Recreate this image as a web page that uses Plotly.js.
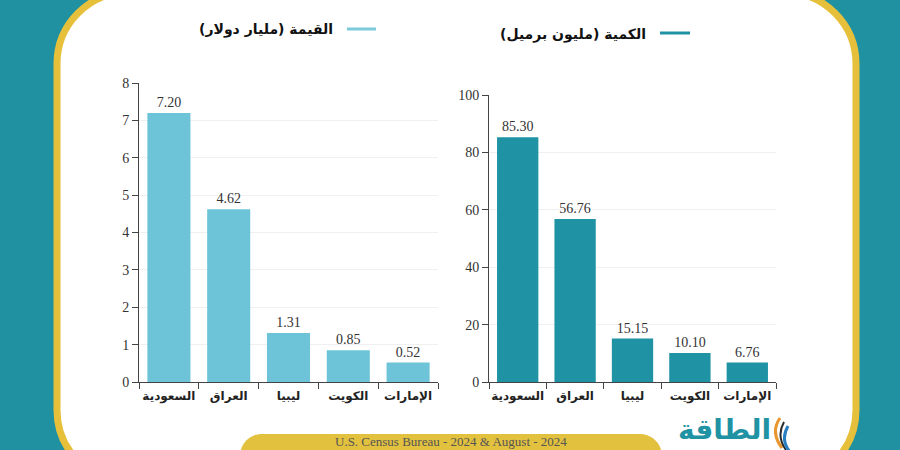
<!DOCTYPE html>
<html>
<head>
<meta charset="utf-8">
<script src="https://cdn.plot.ly/plotly-3.0.1.min.js"></script>
<style>html,body{margin:0;padding:0;background:#1f91a1;}#chart{width:900px;height:450px;}</style>
</head>
<body>
<div id="chart"></div>
<script>
// ---- data ----
const categories = ["السعودية", "العراق", "ليبيا", "الكويت", "الإمارات"];
const valueBillionUSD = [7.20, 4.62, 1.31, 0.85, 0.52];
const volumeMillionBarrels = [85.30, 56.76, 15.15, 10.10, 6.76];
const valueTitle = "القيمة (مليار دولار)";
const volumeTitle = "الكمية (مليون برميل)";
const sourceText = "U.S. Census Bureau - 2024 & August - 2024";
const logoText = "الطاقة";
const valueTicks = [0, 1, 2, 3, 4, 5, 6, 7, 8];
const volumeTicks = [0, 20, 40, 60, 80, 100];

// ---- helpers (pixel -> paper) ----
const W = 900, H = 450;
const px = x => x / W;
const py = y => 1 - y / H;
const P = (x, y) => px(x).toFixed(5) + "," + py(y).toFixed(5);
function roundRect(x0, y0, x1, y1, r) {
  const k = 0.5523 * r;
  return "M" + P(x0 + r, y0) +
    " L" + P(x1 - r, y0) +
    " C" + P(x1 - r + k, y0) + " " + P(x1, y0 + r - k) + " " + P(x1, y0 + r) +
    " L" + P(x1, y1 - r) +
    " C" + P(x1, y1 - r + k) + " " + P(x1 - r + k, y1) + " " + P(x1 - r, y1) +
    " L" + P(x0 + r, y1) +
    " C" + P(x0 + r - k, y1) + " " + P(x0, y1 - r + k) + " " + P(x0, y1 - r) +
    " L" + P(x0, y0 + r) +
    " C" + P(x0, y0 + r - k) + " " + P(x0 + r - k, y0) + " " + P(x0 + r, y0) + " Z";
}

const lightBlue = "#6dc4d8";
const teal = "#1f93a4";
const serif = "Liberation Serif, Times New Roman, serif";
const arabic = "DejaVu Sans, Noto Sans, sans-serif";

const traces = [
  {
    type: "bar", x: categories, y: valueBillionUSD, xaxis: "x", yaxis: "y",
    marker: {color: lightBlue}, texttemplate: "%{y:.2f}", textposition: "outside",
    textfont: {family: serif, size: 14, color: "#333"}, cliponaxis: false, hoverinfo: "skip"
  },
  {
    type: "bar", x: categories, y: volumeMillionBarrels, xaxis: "x2", yaxis: "y2",
    marker: {color: teal}, texttemplate: "%{y:.2f}", textposition: "outside",
    textfont: {family: serif, size: 14, color: "#333"}, cliponaxis: false, hoverinfo: "skip"
  }
];

const xCommon = {
  type: "category", showline: true, linecolor: "#444", linewidth: 1,
  ticks: "outside", tickson: "boundaries", ticklen: 6, tickcolor: "#444",
  tickangle: 0, automargin: false, ticklabelstandoff: 3,
  tickfont: {family: arabic, size: 12, color: "#222", weight: "bold"},
  showgrid: false, zeroline: false, fixedrange: true
};
const yCommon = {
  showline: true, linecolor: "#444", linewidth: 1, ticks: "outside", ticklen: 6,
  tickcolor: "#444", tickfont: {family: serif, size: 14, color: "#333"},
  showgrid: true, gridcolor: "#f0f0f0", gridwidth: 1, zeroline: false, fixedrange: true
};

const layout = {
  width: W, height: H, margin: {l: 0, r: 0, t: 0, b: 0},
  paper_bgcolor: "#1f91a1", plot_bgcolor: "rgba(0,0,0,0)",
  showlegend: false, bargap: 0.28,
  xaxis: Object.assign({}, xCommon, {domain: [px(139), px(438)], anchor: "y"}),
  yaxis: Object.assign({}, yCommon, {domain: [py(382), py(83)], range: [0, 8], tickvals: valueTicks, anchor: "x"}),
  xaxis2: Object.assign({}, xCommon, {domain: [px(489), px(776)], anchor: "y2"}),
  yaxis2: Object.assign({}, yCommon, {domain: [py(382), py(95)], range: [0, 100], tickvals: volumeTicks, anchor: "x2"}),
  shapes: [
    {type: "path", xref: "paper", yref: "paper", layer: "below",
     path: roundRect(57, -8, 856, 482, 72), fillcolor: "#ffffff",
     line: {color: "#e6c03b", width: 7}},
    {type: "path", xref: "paper", yref: "paper", layer: "below",
     path: roundRect(240, 434, 662, 490, 22), fillcolor: "#e2c13e",
     line: {width: 0}},
    {type: "line", xref: "paper", yref: "paper", x0: px(660), x1: px(690), y0: py(33), y1: py(33),
     line: {color: teal, width: 3}},
    {type: "line", xref: "paper", yref: "paper", x0: px(347), x1: px(376), y0: py(29), y1: py(29),
     line: {color: "#7ccbdc", width: 3}},
    // flame mark beside the logo
    {type: "path", xref: "paper", yref: "paper",
     path: "M" + P(780, 418) + " Q" + P(770, 432) + " " + P(782, 448),
     line: {color: "#e8962e", width: 3}},
    {type: "path", xref: "paper", yref: "paper",
     path: "M" + P(784, 422) + " Q" + P(776, 436) + " " + P(786, 450),
     line: {color: "#2a2a2a", width: 2}},
    {type: "path", xref: "paper", yref: "paper",
     path: "M" + P(788, 426) + " Q" + P(780, 440) + " " + P(790, 452),
     line: {color: "#2a7fc0", width: 3}}
  ],
  annotations: [
    {xref: "paper", yref: "paper", x: px(648), y: py(34), xanchor: "right", yanchor: "middle",
     text: volumeTitle, showarrow: false, font: {family: arabic, size: 14, color: "#111", weight: "bold"}},
    {xref: "paper", yref: "paper", x: px(335), y: py(30), xanchor: "right", yanchor: "middle",
     text: valueTitle, showarrow: false, font: {family: arabic, size: 14, color: "#111", weight: "bold"}},
    {xref: "paper", yref: "paper", x: px(451), y: py(441), xanchor: "center", yanchor: "middle",
     text: sourceText, showarrow: false, font: {family: serif, size: 13, color: "#555"}},
    {xref: "paper", yref: "paper", x: px(724), y: py(429), xanchor: "center", yanchor: "middle",
     text: logoText, showarrow: false, font: {family: arabic, size: 28, color: teal, weight: "bold"}}
  ]
};

Plotly.newPlot("chart", traces, layout, {staticPlot: true, displayModeBar: false});
</script>
</body>
</html>
